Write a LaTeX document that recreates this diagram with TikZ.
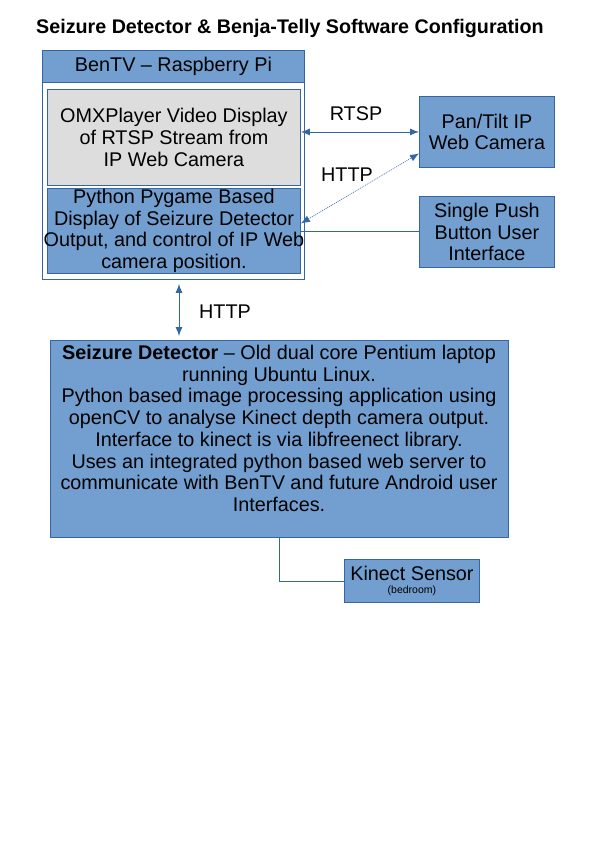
\documentclass[tikz,border=0pt]{standalone}
\usepackage{fontspec}
\setmainfont{Liberation Sans}
\usetikzlibrary{arrows.meta}
\definecolor{boxblue}{HTML}{729FCF}
\definecolor{edgeblue}{HTML}{3465A4}
\definecolor{boxgray}{HTML}{DDDDDD}

\begin{document}
\begin{tikzpicture}[x=1pt, y=-1pt,
    box/.style={draw=edgeblue, fill=boxblue, line width=0.9pt, inner sep=0pt,
        anchor=north west, align=center, font=\fontsize{19.8}{21.7}\selectfont},
    link/.style={draw=edgeblue, line width=0.9pt},
    biarrow/.style={link, {Latex[length=9pt,width=7pt]}-{Latex[length=9pt,width=7pt]}},
    tag/.style={font=\fontsize{19.8}{21.7}\selectfont}]

    % Page
    \useasboundingbox[fill=white] (0,0) rectangle (595,841);

    % Title
    \node[font=\bfseries\fontsize{19.7}{22}\selectfont, anchor=base] (title) at (290,33)
        {Seizure Detector \& Benja-Telly Software Configuration};

    % BenTV - Raspberry Pi
    \node[box, fill=white, minimum width=262pt, minimum height=229pt] (bentv) at (42,50) {};
    \node[box, minimum width=262pt, minimum height=32pt] (hdr) at (42,50) {BenTV – Raspberry Pi};
    \node[box, fill=boxgray, minimum width=253pt, minimum height=96pt] (omx) at (47,89)
        {OMXPlayer Video Display\\of RTSP Stream from\\IP Web Camera};
    \node[box, minimum width=253pt, minimum height=85pt] (pyg) at (47,188)
        {Python Pygame Based\\Display of Seizure Detector\\\makebox[250pt]{Output, and control of IP Web}\\camera position.};

    % Camera and push button
    \node[box, minimum width=135pt, minimum height=71pt] (cam) at (419,96) {Pan/Tilt IP\\Web Camera};
    \node[box, minimum width=135pt, minimum height=71pt] (push) at (419,196) {Single Push\\Button User\\Interface};

    % Seizure detector
    \node[box, minimum width=458pt, minimum height=197pt] (sd) at (50,340) {};
    \node[tag, anchor=north, align=center, inner sep=0pt] (sdtext) at (279,345)
        {\textbf{Seizure Detector} – Old dual core Pentium laptop\\
         running Ubuntu Linux.\\
         Python based image processing application using\\
         openCV to analyse Kinect depth camera output.\\
         Interface to kinect is via libfreenect library.\\
         Uses an integrated python based web server to\\
         communicate with BenTV and future Android user\\
         Interfaces.};

    % Kinect
    \node[box, minimum width=135pt, minimum height=43pt] (kin) at (344,559)
        {Kinect Sensor\\[-9pt]{\fontsize{10.5}{11}\selectfont (bedroom)}};

    % Links
    \draw[biarrow] (omx.east |- cam.west) -- (cam.west);
    \draw[biarrow, line width=0.6pt, dash pattern=on 1pt off 1pt]
        ([yshift=7.5pt]pyg.east) -- ([yshift=-21.5pt]cam.west);
    \draw[link] (pyg.east) -- (pyg.east -| push.west);
    \coordinate (hx) at (179,0);
    \path (bentv.south -| hx) ++(0,4) coordinate (ht);
    \path (sd.north -| hx) ++(0,-4) coordinate (hb);
    \draw[biarrow] (ht) -- (hb);
    \draw[link] (sd.south) |- (kin.west);

    % Link labels
    \node[tag] (rtsp) at (356,114) {RTSP};
    \node[tag] (http1) at (347,175) {HTTP};
    \node[tag] (http2) at (225,312) {HTTP};
\end{tikzpicture}
\end{document}
